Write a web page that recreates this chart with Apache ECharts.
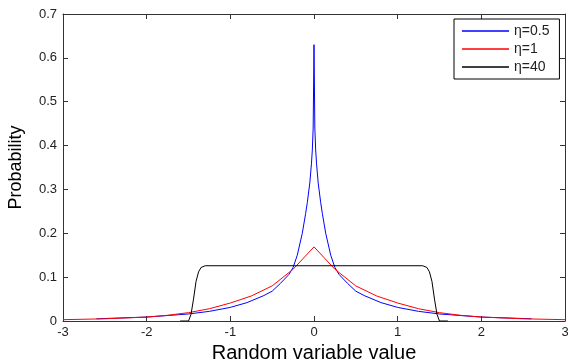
<!DOCTYPE html>
<html>
<head>
<meta charset="utf-8">
<script src="https://cdn.jsdelivr.net/npm/echarts@6/dist/echarts.min.js"></script>
<style>
  html, body { margin: 0; padding: 0; background: #fff; }
  #chart { width: 568px; height: 362px; }
</style>
</head>
<body>
<div id="chart"></div>
<script>
// values
const blueX = [-2.6, -2, -1.5, -1.25, -1, -0.8, -0.6, -0.5, -0.4, -0.3, -0.25, -0.2, -0.14, -0.1, -0.08, -0.05, -0.03, -0.02, -0.01, 0,
  0.01, 0.02, 0.03, 0.05, 0.08, 0.1, 0.14, 0.2, 0.25, 0.3, 0.4, 0.5, 0.6, 0.8, 1, 1.25, 1.5, 2, 2.6];
const blueY = [0.005, 0.009, 0.016, 0.022, 0.031, 0.042, 0.058, 0.068, 0.086, 0.106, 0.122, 0.15, 0.2, 0.245, 0.27, 0.315, 0.36, 0.39, 0.44, 0.63,
  0.44, 0.39, 0.36, 0.315, 0.27, 0.245, 0.2, 0.15, 0.122, 0.106, 0.086, 0.068, 0.058, 0.042, 0.031, 0.022, 0.016, 0.009, 0.005];

const redX = [-3, -2.5, -2, -1.75, -1.5, -1.25, -1, -0.75, -0.5, -0.25, 0, 0.25, 0.5, 0.75, 1, 1.25, 1.5, 1.75, 2, 2.5, 3];
const redY = [0.003, 0.005, 0.009, 0.013, 0.019, 0.028, 0.041, 0.057, 0.08, 0.118, 0.169, 0.118, 0.08, 0.057, 0.041, 0.028, 0.019, 0.013, 0.009, 0.005, 0.003];

const blackX = [-1.6, -1.5, -1.47, -1.44, -1.41, -1.38, -1.35, -1.3, 1.3, 1.35, 1.38, 1.41, 1.44, 1.47, 1.5, 1.6];
const blackY = [0, 0, 0.015, 0.05, 0.09, 0.112, 0.122, 0.126, 0.126, 0.122, 0.112, 0.09, 0.05, 0.015, 0, 0];

const seriesNames = ['η=0.5', 'η=1', 'η=40'];

const zip = (xs, ys) => xs.map((x, i) => [x, ys[i]]);

const chart = echarts.init(document.getElementById('chart'), null, { renderer: 'canvas' });

const labelFont = { color: '#222', fontSize: 13, fontFamily: 'Liberation Sans' };
const boxLine = { show: true, onZero: false, lineStyle: { color: '#333', width: 1 } };
const tickIn = { show: true, inside: true, length: 5, lineStyle: { color: '#333' } };

const option = {
  animation: false,
  color: ['#0000ff', '#ff0000', '#000000'],
  grid: { left: 63, right: 3, top: 14, bottom: 41, containLabel: false, outerBoundsMode: 'none' },
  legend: {
    orient: 'vertical',
    left: 454,
    top: 19,
    icon: 'rect',
    itemWidth: 47,
    itemHeight: 1.5,
    itemGap: 4,
    padding: [5, 10, 5, 8],
    borderColor: '#000',
    borderWidth: 1,
    borderRadius: 0,
    backgroundColor: '#fff',
    textStyle: { color: '#222', fontSize: 14, fontFamily: 'Liberation Sans' },
    data: seriesNames
  },
  xAxis: [
    {
      type: 'value', min: -3, max: 3, interval: 1, position: 'bottom',
      name: 'Random variable value', nameLocation: 'middle', nameGap: 16,
      nameTextStyle: { color: '#000', fontSize: 20, fontFamily: 'Liberation Sans' },
      axisLine: boxLine, axisTick: tickIn,
      axisLabel: Object.assign({ margin: 5 }, labelFont),
      splitLine: { show: false }
    },
    {
      type: 'value', min: -3, max: 3, interval: 1, position: 'top',
      axisLine: boxLine, axisTick: tickIn, axisLabel: { show: false },
      splitLine: { show: false }
    }
  ],
  yAxis: [
    {
      type: 'value', min: 0, max: 0.7, interval: 0.1, position: 'left',
      name: 'Probability', nameLocation: 'middle', nameGap: 38,
      nameTextStyle: { color: '#000', fontSize: 18, fontFamily: 'Liberation Sans' },
      axisLine: boxLine, axisTick: tickIn,
      axisLabel: Object.assign({ margin: 6, formatter: (v) => String(Math.round(v * 10) / 10) }, labelFont),
      splitLine: { show: false }
    },
    {
      type: 'value', min: 0, max: 0.7, interval: 0.1, position: 'right',
      axisLine: boxLine, axisTick: tickIn, axisLabel: { show: false },
      splitLine: { show: false }
    }
  ],
  series: [
    { name: seriesNames[0], type: 'line', symbol: 'none', lineStyle: { width: 1 }, data: zip(blueX, blueY) },
    { name: seriesNames[1], type: 'line', symbol: 'none', lineStyle: { width: 1 }, data: zip(redX, redY) },
    { name: seriesNames[2], type: 'line', symbol: 'none', lineStyle: { width: 1 }, data: zip(blackX, blackY) }
  ]
};

chart.setOption(option);
</script>
</body>
</html>
